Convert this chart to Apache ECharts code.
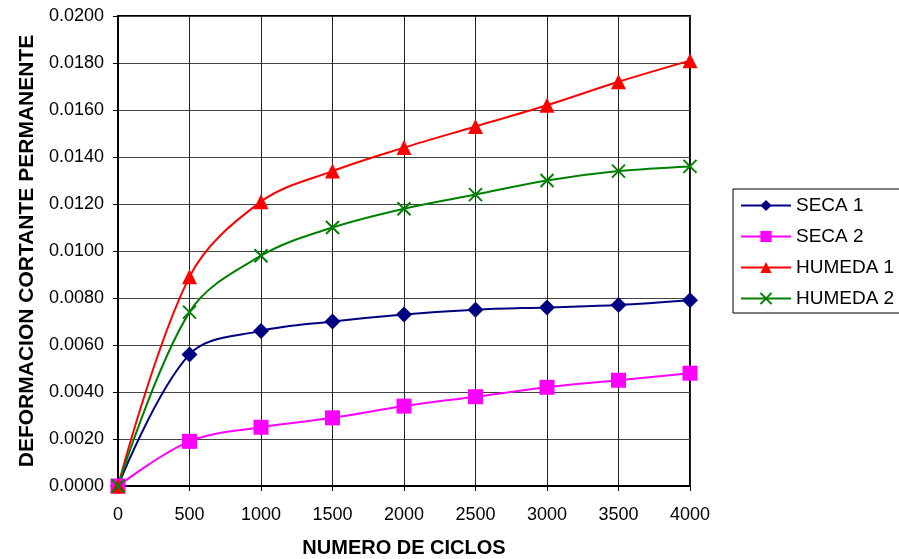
<!DOCTYPE html>
<html>
<head>
<meta charset="utf-8">
<script src="https://cdn.jsdelivr.net/npm/echarts@6/dist/echarts.min.js"></script>
<style>
html,body{margin:0;padding:0;background:#fff;}
#chart{width:899px;height:559px;}
</style>
</head>
<body>
<div id="chart"></div>
<script>
// ciclos y deformaciones
var ciclos = [0, 500, 1000, 1500, 2000, 2500, 3000, 3500, 4000];
var seca1 = [0, 0.0056, 0.0066, 0.0070, 0.0073, 0.0075, 0.0076, 0.0077, 0.0079];
var seca2 = [0, 0.0019, 0.0025, 0.0029, 0.0034, 0.0038, 0.0042, 0.0045, 0.0048];
var humeda1 = [0, 0.0089, 0.0121, 0.0134, 0.0144, 0.0153, 0.0162, 0.0172, 0.0181];
var humeda2 = [0, 0.0074, 0.0098, 0.0110, 0.0118, 0.0124, 0.0130, 0.0134, 0.0136];
var nombres = ['SECA 1', 'SECA 2', 'HUMEDA 1', 'HUMEDA 2'];

function pares(v){
  var out = [];
  for (var i = 0; i < ciclos.length; i++){
    out.push([ciclos[i], v[i]]);
  }
  return out;
}

var fuente = 'Liberation Sans, Arial, sans-serif';
var chart = echarts.init(document.getElementById('chart'));

function serie(name, data, color, symbol, size, extra){
  var s = {
    name: name,
    type: 'line',
    data: pares(data),
    smooth: 0.35,
    symbol: symbol,
    symbolSize: size,
    clip: false,
    lineStyle: {color: color, width: 2},
    itemStyle: {color: color},
    animation: false
  };
  if (extra) { s.itemStyle = extra; }
  return s;
}

var option = {
  backgroundColor: '#fff',
  textStyle: {fontFamily: fuente},
  grid: {left: 118, top: 16, width: 572, height: 470, outerBoundsMode: 'none',
         show: true, borderColor: '#000', borderWidth: 2},
  legend: {
    orient: 'vertical',
    left: 733,
    top: 189,
    padding: [7, 80, 5, 7],
    borderColor: '#000',
    borderWidth: 1,
    borderRadius: 0,
    itemWidth: 50,
    itemHeight: 14,
    itemGap: 12,
    textStyle: {fontSize: 19, color: '#000', fontFamily: fuente},
    data: nombres
  },
  xAxis: {
    type: 'value',
    min: 0, max: 4000, interval: 500,
    name: 'NUMERO DE CICLOS',
    nameLocation: 'middle',
    nameGap: 52,
    nameTextStyle: {fontSize: 20, fontWeight: 'bold', color: '#000'},
    axisLine: {show: true, lineStyle: {color: '#000', width: 2}},
    axisTick: {show: true, length: 5, lineStyle: {color: '#000'}},
    axisLabel: {fontSize: 18, color: '#000', margin: 20, formatter: function(v){ return String(v); }},
    splitLine: {show: true, lineStyle: {color: '#222', width: 1}}
  },
  yAxis: {
    type: 'value',
    min: 0, max: 0.02, interval: 0.002,
    name: 'DEFORMACION CORTANTE PERMANENTE',
    nameLocation: 'middle',
    nameGap: 78,
    nameTextStyle: {fontSize: 21, fontWeight: 'bold', color: '#000'},
    axisLine: {show: true, lineStyle: {color: '#000', width: 2}},
    axisTick: {show: true, length: 5, lineStyle: {color: '#000'}},
    axisLabel: {fontSize: 18, color: '#000', margin: 14, formatter: function(v){ return v.toFixed(4); }},
    splitLine: {show: true, lineStyle: {color: '#444', width: 1}}
  },
  series: [
    serie('SECA 1', seca1, '#000080', 'diamond', 16),
    serie('SECA 2', seca2, '#ff00ff', 'rect', 15),
    serie('HUMEDA 1', humeda1, '#ff0000', 'triangle', 15),
    serie('HUMEDA 2', humeda2, '#008000', 'path://M0,0L10,10M10,0L0,10', 13,
      {color: 'none', borderColor: '#008000', borderWidth: 2})
  ]
};
chart.setOption(option);
</script>
</body>
</html>
